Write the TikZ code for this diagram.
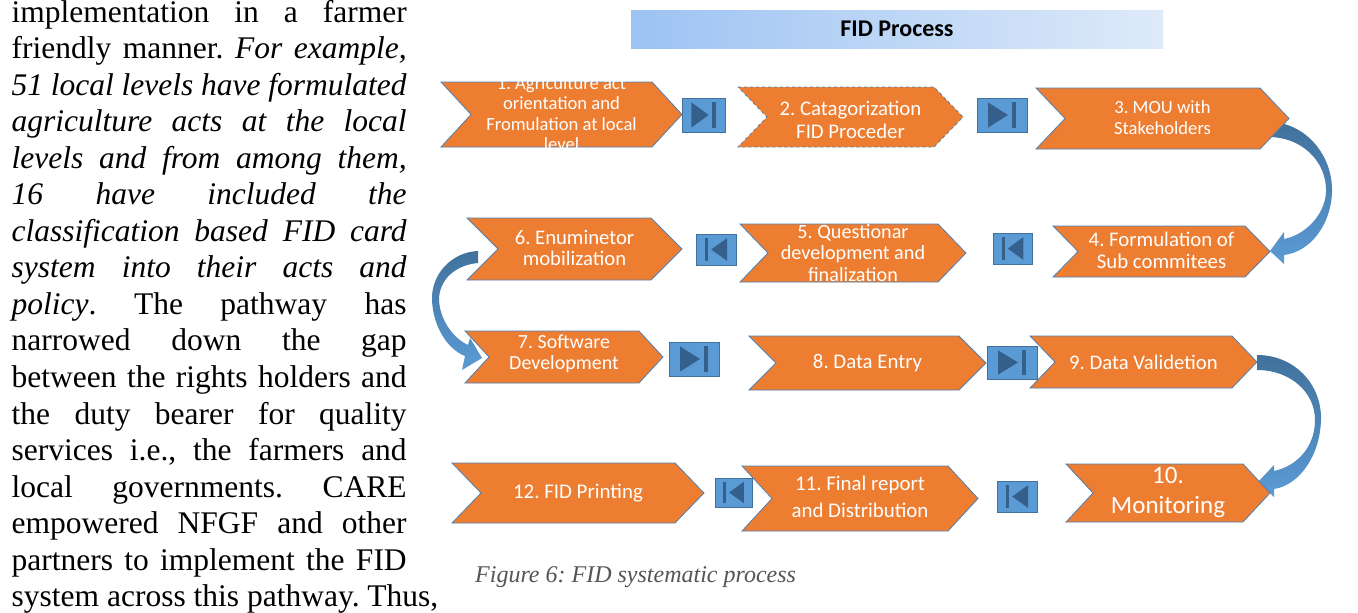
\documentclass[tikz,border=0pt]{standalone}
\usepackage{fontspec}
\setmainfont{Liberation Serif}
\newfontfamily\calibri{Carlito}
\usetikzlibrary{calc}

\definecolor{chevorange}{HTML}{ED7D31}
\definecolor{chevline}{HTML}{4F81B3}
\definecolor{btnfill}{HTML}{5B9BD5}
\definecolor{btnline}{HTML}{41719C}
\definecolor{btnicon}{HTML}{35608C}
\definecolor{arrowdark}{HTML}{41719C}
\definecolor{arrowlight}{HTML}{5B9BD5}
\definecolor{titleleft}{HTML}{9DC3F3}
\definecolor{titleright}{HTML}{DEEAF9}
\definecolor{captiongray}{HTML}{555555}

\tikzset{
  chevbody/.style={fill=chevorange, draw=chevline, line width=0.8pt, line join=miter},
  chevtext/.style={text=white, align=center, inner sep=0pt},
  btn/.style={rectangle, fill=btnfill, draw=btnline, line width=0.8pt, inner sep=0pt},
  bodyline/.style={anchor=base west, inner sep=0pt, font=\fontsize{31.5}{36.55}\selectfont},
  curvearrow/.style={top color=arrowdark, bottom color=arrowlight},
}

% chevron: name, path style, left x, tip x, top y, bottom y, point depth, node options, text
\newcommand\chevron[9]{%
  \path[#2] (#3,#5) -- ({#4-#7},#5) -- (#4,{(#5+#6)/2}) -- ({#4-#7},#6) -- (#3,#6)
    -- ({#3+#7},{(#5+#6)/2}) -- cycle;
  \node[chevtext,#8] (#1) at ({(#3+#4)/2},{(#5+#6)/2}) {#9};}

% "next" button: name, left x, right x, top y, bottom y
\newcommand\nextbtn[5]{%
  \pgfmathsetmacro\bw{#3-#2}\pgfmathsetmacro\bh{#5-#4}%
  \pgfmathsetmacro\bx{(#2+#3)/2}\pgfmathsetmacro\by{(#4+#5)/2}%
  \node[btn, minimum width=\bw pt, minimum height=\bh pt] (#1) at (\bx,\by) {};
  \fill[btnicon] ({\bx-0.28*\bw},{\by-0.37*\bh}) -- ({\bx+0.12*\bw},\by)
    -- ({\bx-0.28*\bw},{\by+0.37*\bh}) -- cycle;
  \fill[btnicon] ({\bx+0.2*\bw},{\by-0.37*\bh}) rectangle ({\bx+0.28*\bw},{\by+0.37*\bh});}

% "back" button: name, left x, right x, top y, bottom y
\newcommand\backbtn[5]{%
  \pgfmathsetmacro\bw{#3-#2}\pgfmathsetmacro\bh{#5-#4}%
  \pgfmathsetmacro\bx{(#2+#3)/2}\pgfmathsetmacro\by{(#4+#5)/2}%
  \node[btn, minimum width=\bw pt, minimum height=\bh pt] (#1) at (\bx,\by) {};
  \fill[btnicon] ({\bx+0.28*\bw},{\by-0.37*\bh}) -- ({\bx-0.12*\bw},\by)
    -- ({\bx+0.28*\bw},{\by+0.37*\bh}) -- cycle;
  \fill[btnicon] ({\bx-0.28*\bw},{\by-0.37*\bh}) rectangle ({\bx-0.2*\bw},{\by+0.37*\bh});}

\newcommand\jline[1]{\makebox[395pt][s]{#1}}

\begin{document}
\begin{tikzpicture}[x=1pt,y=-1pt]
\useasboundingbox (0,0) rectangle (1358,613);
\fill[white] (0,0) rectangle (1358,613);

% ---- body text column ----
\frenchspacing
\node[bodyline] (p1)  at (11.5,22.0)  {\jline{implementation in a farmer}};
\node[bodyline] (p2)  at (11.5,58.55) {\jline{friendly manner. \textit{For example,}}};
\node[bodyline] (p3)  at (11.5,95.1)  {\jline{\textit{51 local levels have formulated}}};
\node[bodyline] (p4)  at (11.5,131.65){\jline{\textit{agriculture acts at the local}}};
\node[bodyline] (p5)  at (11.5,168.2) {\jline{\textit{levels and from among them,}}};
\node[bodyline] (p6)  at (11.5,204.75){\jline{\textit{16 have included the}}};
\node[bodyline] (p7)  at (11.5,241.3) {\jline{\textit{classification based FID card}}};
\node[bodyline] (p8)  at (11.5,277.85){\jline{\textit{system into their acts and}}};
\node[bodyline] (p9)  at (11.5,314.4) {\jline{\textit{policy}. The pathway has}};
\node[bodyline] (p10) at (11.5,350.95){\jline{narrowed down the gap}};
\node[bodyline] (p11) at (11.5,387.5) {\jline{between the rights holders and}};
\node[bodyline] (p12) at (11.5,424.05){\jline{the duty bearer for quality}};
\node[bodyline] (p13) at (11.5,460.6) {\jline{services i.e., the farmers and}};
\node[bodyline] (p14) at (11.5,497.15){\jline{local governments. CARE}};
\node[bodyline] (p15) at (11.5,533.7) {\jline{empowered NFGF and other}};
\node[bodyline] (p16) at (11.5,570.25){\jline{partners to implement the FID}};
\node[bodyline] (p17) at (11.5,606.8) {system across this pathway. Thus,};

% ---- title bar ----
\node[rectangle, left color=titleleft, right color=titleright, minimum width=532pt,
      minimum height=38pt, inner sep=0pt,
      font=\calibri\bfseries\fontsize{24}{28}\selectfont] (title) at (897,29) {FID Process};

% ---- curved connectors ----
\shade[curvearrow] (1269,122) .. controls (1305,122) and (1333,155) .. (1332,192)
  .. controls (1331,225) and (1310,252) .. (1284,255) -- (1284,264) -- (1270,251)
  -- (1284,232) -- (1284,239) .. controls (1305,235) and (1325,215) .. (1326,192)
  .. controls (1327,160) and (1300,137) .. (1269,137) -- cycle;
\shade[curvearrow] (1257,355) .. controls (1295,355) and (1322,385) .. (1321,420)
  .. controls (1320,455) and (1300,485) .. (1274,489) -- (1274,497) -- (1258,482)
  -- (1274,465) -- (1274,471) .. controls (1297,466) and (1315,447) .. (1315,420)
  .. controls (1315,392) and (1290,370) .. (1257,370) -- cycle;
\shade[curvearrow] (478,251) .. controls (452,252) and (431,274) .. (432,300)
  .. controls (433,326) and (447,349) .. (465,356) -- (462,370) -- (482,358)
  -- (470,338) -- (468,345) .. controls (453,338) and (440,320) .. (439,300)
  .. controls (439,280) and (455,265) .. (478,263) -- cycle;

% ---- process steps ----
\chevron{s1}{chevbody}{441}{682}{82}{147}{30}
  {font=\calibri\fontsize{18.6}{20.5}\selectfont, yshift=1pt}
  {1. Agriculture act\\orientation and\\Fromulation at local\\level}
\chevron{s2}{chevbody, dashed}{738}{963}{87}{147}{29}
  {font=\calibri\fontsize{20.8}{23}\selectfont, yshift=-3pt}
  {2. Catagorization\\FID Proceder}
\chevron{s3}{chevbody}{1036}{1289}{88}{149}{29}
  {font=\calibri\fontsize{18.6}{20.5}\selectfont, yshift=1pt}
  {3. MOU with\\Stakeholders}
\chevron{s4}{chevbody}{1053}{1270}{226}{277}{25}
  {font=\calibri\fontsize{20.8}{21.5}\selectfont, yshift=1pt}
  {4. Formulation of\\Sub commitees}
\chevron{s5}{chevbody}{740}{966}{224}{282}{28}
  {font=\calibri\fontsize{20.2}{21.5}\selectfont}
  {5. Questionar\\development and\\finalization}
\chevron{s6}{chevbody}{467}{682}{218}{280}{31}
  {font=\calibri\fontsize{20.7}{21.5}\selectfont, yshift=1pt}
  {6. Enuminetor\\mobilization}
\chevron{s7}{chevbody}{465}{663}{331}{383}{24}
  {font=\calibri\fontsize{20}{21.5}\selectfont, yshift=3pt}
  {7. Software\\Development}
\chevron{s8}{chevbody}{749}{986}{336}{390}{27}
  {font=\calibri\fontsize{20.8}{23}\selectfont}
  {8. Data Entry}
\chevron{s9}{chevbody}{1030}{1257}{336}{388}{25}
  {font=\calibri\fontsize{20.7}{23}\selectfont}
  {9. Data Validetion}
\chevron{s10}{chevbody}{1066}{1270}{464}{522}{27}
  {font=\calibri\fontsize{25}{30}\selectfont}
  {10.\\Monitoring}
\chevron{s11}{chevbody}{742}{978}{466}{531}{30}
  {font=\calibri\fontsize{20.9}{27}\selectfont, yshift=2pt}
  {11. Final report\\and Distribution}
\chevron{s12}{chevbody}{452}{704}{463}{523}{29}
  {font=\calibri\fontsize{20.9}{23}\selectfont}
  {12. FID Printing}

% ---- step buttons ----
\nextbtn{b1}{682}{725}{98}{132}
\nextbtn{b2}{977}{1027}{98}{132}
\backbtn{b3}{696}{736}{234}{265}
\backbtn{b4}{993}{1032}{233}{264}
\nextbtn{b5}{669}{719}{342}{376}
\nextbtn{b6}{987}{1037}{346}{379}
\backbtn{b7}{715}{752}{478}{507}
\backbtn{b8}{997}{1037}{481}{512}

% ---- caption ----
\node[anchor=base west, inner sep=0pt, text=captiongray,
      font=\itshape\fontsize{24}{28}\selectfont] (cap) at (475,582) {Figure 6: FID systematic process};
\end{tikzpicture}
\end{document}
